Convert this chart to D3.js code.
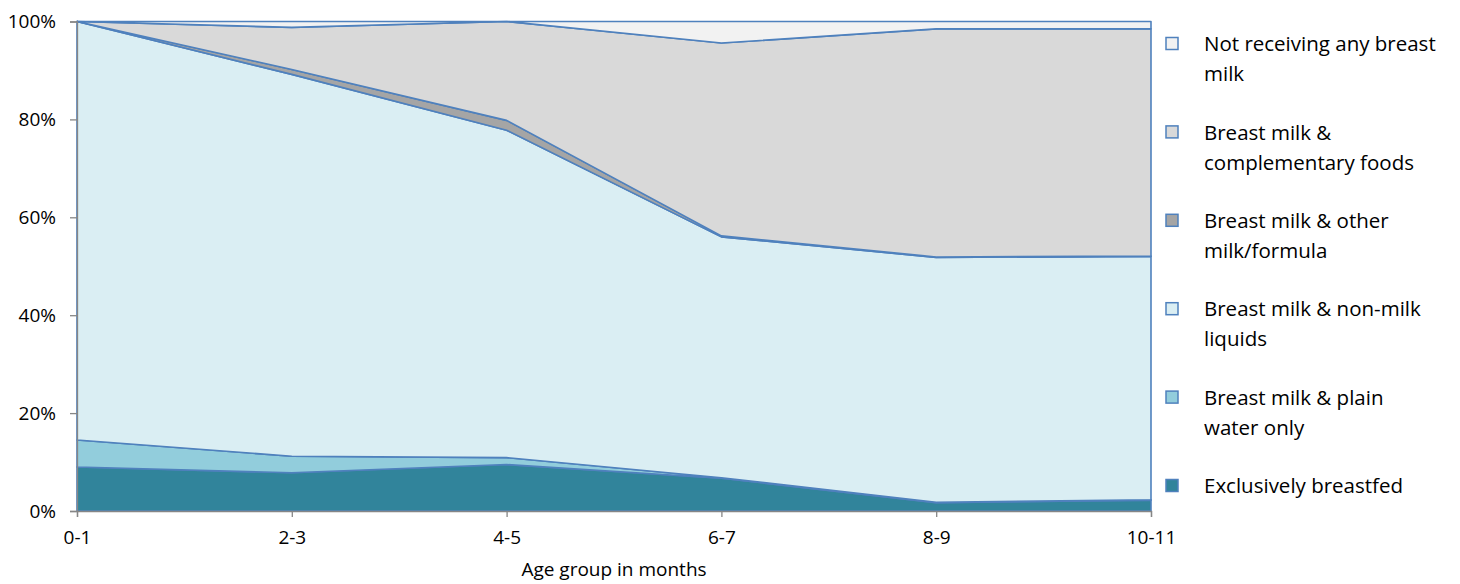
<!DOCTYPE html>
<html>
<head>
<meta charset="utf-8">
<script src="https://cdn.jsdelivr.net/npm/d3@7"></script>
<style>
  body { margin: 0; background: #fff; }
  text { font-family: "Open Sans", "Liberation Sans", sans-serif; fill: #000; }
</style>
</head>
<body>
<div id="container"></div>
<script>
const ages = ["0-1", "2-3", "4-5", "6-7", "8-9", "10-11"]

const seriesNames = [
  "Exclusively breastfed",
  "Breast milk & plain water only",
  "Breast milk & non-milk liquids",
  "Breast milk & other milk/formula",
  "Breast milk & complementary foods",
  "Not receiving any breast milk"
]

// percentages per age group
const exclusive = [9.0, 7.8, 9.5, 6.7, 1.7, 2.2]
const plainWater = [5.5, 3.4, 1.4, 0.1, 0.1, 0.1]
const nonMilk = [85.5, 78.0, 66.9, 49.2, 50.0, 49.7]
const otherMilk = [0.0, 1.0, 2.0, 0.2, 0.1, 0.1]
const complementary = [0.0, 8.6, 20.2, 39.4, 46.6, 46.4]
const notReceiving = [0.0, 1.2, 0.0, 4.4, 1.5, 1.5]

const yTicks = [0, 20, 40, 60, 80, 100]

const legendLines = [
  ["Not receiving any breast", "milk"],
  ["Breast milk &", "complementary foods"],
  ["Breast milk & other", "milk/formula"],
  ["Breast milk & non-milk", "liquids"],
  ["Breast milk & plain", "water only"],
  ["Exclusively breastfed"]
]

const colors = ["#31849B", "#92CDDC", "#DAEEF3", "#A5A5A5", "#D9D9D9", "#F2F2F2"]
const allSeries = [exclusive, plainWater, nonMilk, otherMilk, complementary, notReceiving]

const w = 1460
const h = 584

const rows = ages.map((a, i) => {
  let row = { age: a }
  seriesNames.forEach((n, k) => { row[n] = allSeries[k][i] })
  return row
})

const stacked = d3.stack().keys(seriesNames)(rows)

const svg = d3.select("#container")
  .append("svg")
  .attr("width", w)
  .attr("height", h)

const x = d3.scalePoint().domain(ages).range([77, 1151])
const y = d3.scaleLinear().domain([0, 100]).range([511, 21.5])

const area = d3.area()
  .x((d) => x(d.data.age))
  .y0((d) => y(d[0]))
  .y1((d) => y(d[1]))

svg.selectAll("path.layer")
  .data(stacked)
  .enter()
  .append("path")
  .attr("class", "layer")
  .attr("d", area)
  .attr("fill", (d, i) => colors[i])
  .attr("stroke", "#4F81BD")
  .attr("stroke-width", 1.6)
  .attr("stroke-linejoin", "round")

// axes
const yAxis = svg.append("g")
  .attr("transform", "translate(77,0)")
  .call(d3.axisLeft(y).tickValues(yTicks).tickSize(7).tickPadding(14).tickFormat((d) => d + "%"))
yAxis.select(".domain").attr("stroke", "#868686").attr("stroke-width", 1.3)
yAxis.selectAll(".tick line").attr("stroke", "#868686").attr("stroke-width", 1.3)
yAxis.selectAll(".tick text").style("font-size", "19px").style("font-family", "'Open Sans', sans-serif")

const xAxis = svg.append("g")
  .attr("transform", "translate(0,511)")
  .call(d3.axisBottom(x).tickSize(6).tickPadding(14))
xAxis.select(".domain").attr("stroke", "#868686").attr("stroke-width", 1.3)
xAxis.selectAll(".tick line").attr("stroke", "#868686").attr("stroke-width", 1.3)
xAxis.selectAll(".tick text").style("font-size", "19px").style("font-family", "'Open Sans', sans-serif")

svg.append("text")
  .attr("x", 614)
  .attr("y", 576)
  .attr("text-anchor", "middle")
  .style("font-size", "19px")
  .text("Age group in months")

// legend, top entry = last series
const legend = svg.append("g")
const order = [5, 4, 3, 2, 1, 0]
order.forEach((k, i) => {
  const top = 44 + i * 88.4
  legend.append("rect")
    .attr("x", 1166)
    .attr("y", top - 6.5)
    .attr("width", 12)
    .attr("height", 12)
    .attr("fill", colors[k])
    .attr("stroke", "#4F81BD")
    .attr("stroke-width", 1.5)
  legendLines[i].forEach((line, j) => {
    legend.append("text")
      .attr("x", 1204)
      .attr("y", top + j * 30)
      .attr("dy", "0.35em")
      .style("font-size", "20.5px")
      .text(line)
  })
})
</script>
</body>
</html>
